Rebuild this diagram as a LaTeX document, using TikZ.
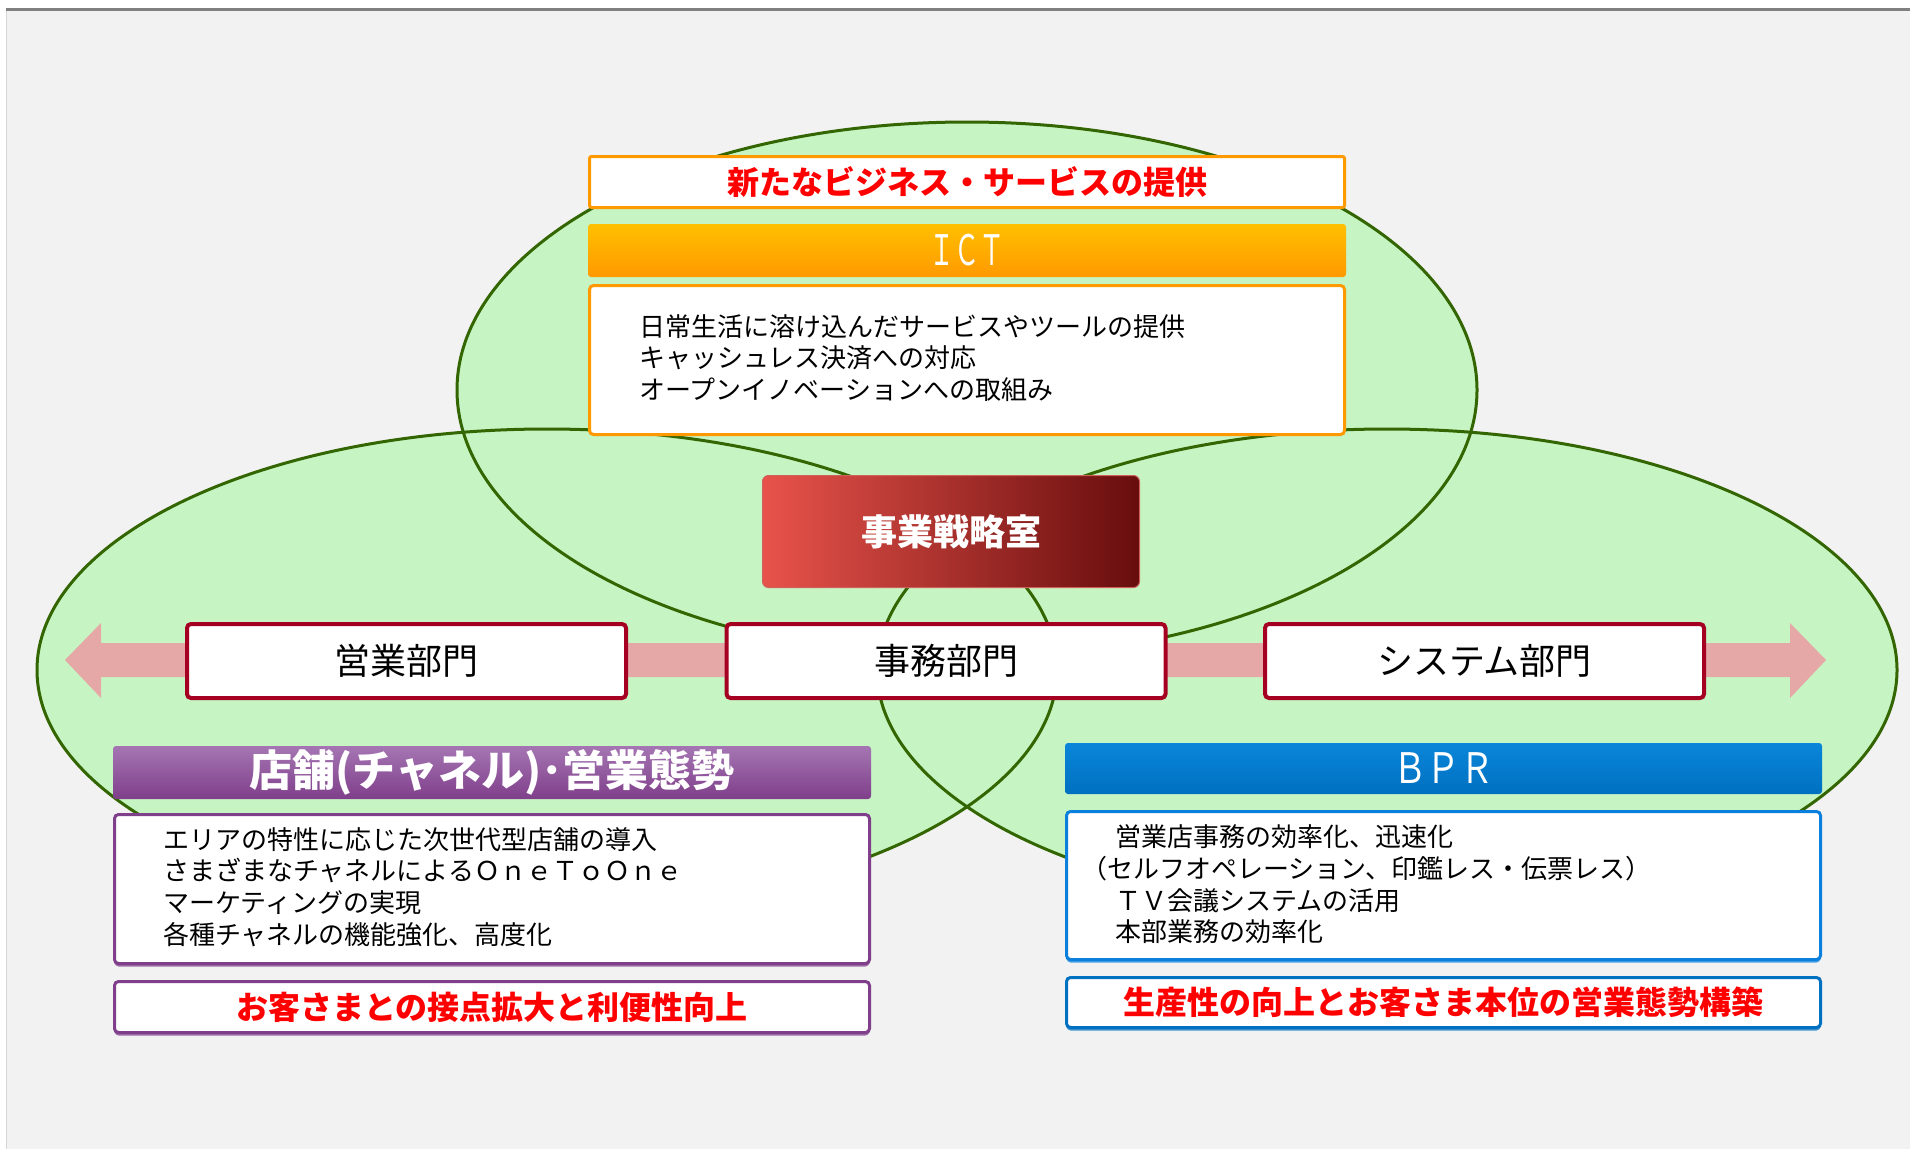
\documentclass[tikz,border=0pt]{standalone}
\usepackage{fontspec}
\setmainfont{Noto Sans CJK JP}
\definecolor{bgc}{HTML}{F2F2F2}
\definecolor{topline}{HTML}{808080}
\definecolor{edgeline}{HTML}{D6D6D6}
\definecolor{ellgreen}{HTML}{C6F4C3}
\definecolor{ellline}{HTML}{336600}
\definecolor{orangeb}{HTML}{FF9900}
\definecolor{orangetop}{HTML}{FFC000}
\definecolor{orangemid}{HTML}{FFA000}
\definecolor{redtext}{HTML}{FF0000}
\definecolor{stratL}{HTML}{E8534B}
\definecolor{stratR}{HTML}{670D0D}
\definecolor{stratB}{HTML}{D0605A}
\definecolor{deptred}{HTML}{A50021}
\definecolor{arrowpink}{HTML}{E6A8A6}
\definecolor{purp}{HTML}{7F3F8A}
\definecolor{purptop}{HTML}{A575B3}
\definecolor{blueb}{HTML}{0070C0}
\definecolor{bluetop}{HTML}{0A86DA}
\definecolor{bluel}{HTML}{0A80DC}
\tikzset{
  ellstroke/.style={draw=ellline, line width=3pt},
  wbox/.style={draw=#1, line width=3pt, fill=white, rounded corners=4pt, inner sep=0pt},
  shbox/.style={wbox=#1, preaction={fill=#1!75, transform canvas={yshift=-3pt}}},
  dept/.style={draw=deptred, line width=4pt, fill=white, rounded corners=4pt,
    minimum width=439pt, minimum height=74pt, inner sep=0pt,
    font=\fontsize{36pt}{40pt}\selectfont},
  redhead/.style={text=redtext, inner sep=0pt, font=\bfseries\fontsize{32pt}{36pt}\selectfont},
  bodytxt/.style={anchor=west, align=left, inner sep=0pt, text=black,
    font=\fontsize{26pt}{31.6pt}\selectfont},
}
\begin{document}
\begin{tikzpicture}[x=1pt, y=-1pt]
\useasboundingbox (0,0) rectangle (1910,1149);
% background
\fill[white] (0,0) rectangle (1910,1149);
\fill[bgc] (6,10) rectangle (1910,1149);
\fill[topline] (6,8) rectangle (1910,11);
\draw[edgeline, line width=1pt] (6,11) -- (6,1149);
% ellipses: union fill, then outlines
\fill[ellgreen] (967,390) ellipse [x radius=510pt, y radius=268pt]
  (547,670) ellipse [x radius=510pt, y radius=241pt]
  (1387,670) ellipse [x radius=510pt, y radius=241pt];
\draw[ellstroke] (967,390) ellipse [x radius=510pt, y radius=268pt];
\draw[ellstroke] (547,670) ellipse [x radius=510pt, y radius=241pt];
\draw[ellstroke] (1387,670) ellipse [x radius=510pt, y radius=241pt];
% double arrow
\fill[arrowpink] (65,660) -- (101,623) -- (101,643) -- (1790,643) -- (1790,623)
  -- (1826,660) -- (1790,698) -- (1790,677) -- (101,677) -- (101,698) -- cycle;
% ICT column
\node[wbox=orangeb, minimum width=755pt, minimum height=51pt, rounded corners=2pt]
  (newbiz) at (967,182) {};
\node[redhead] (newbiztxt) at (newbiz.center) {新たなビジネス・サービスの提供};
\node[top color=orangetop, middle color=orangemid, bottom color=orangeb, rounded corners=3pt,
  inner sep=0pt, minimum width=758pt, minimum height=53pt] (ictbar) at (967,250.5) {};
\node[text=white, inner sep=0pt, xscale=0.6, transform shape, font=\fontsize{42pt}{46pt}\selectfont] (icttxt) at (ictbar.center) {ＩＣＴ};
\node[wbox=orangeb, minimum width=755pt, minimum height=149pt] (ictbox) at (967,360) {};
\node[bodytxt] (icttext) at (639,358) {日常生活に溶け込んだサービスやツールの提供\\キャッシュレス決済への対応\\オープンイノベーションへの取組み};
% strategy office
\node[left color=stratL, right color=stratR, draw=stratB, line width=1pt, rounded corners=6pt,
  minimum width=377pt, minimum height=112pt, inner sep=0pt] (strat) at (951,531.5) {};
\node[text=white, inner sep=0pt, font=\bfseries\fontsize{36pt}{40pt}\selectfont] (strattxt) at (strat.center) {事業戦略室};
% departments
\node[dept] (eigyo) at (406.5,661) {営業部門};
\node[dept] (jimu) at (946,661) {事務部門};
\node[dept] (system) at (1484.5,661) {システム部門};
% left column (purple)
\node[top color=purptop, middle color=purp, bottom color=purp, rounded corners=3pt, inner sep=0pt,
  minimum width=758pt, minimum height=53pt] (purpbar) at (492,772.5) {};
\node[text=white, inner sep=0pt, font=\bfseries\fontsize{43pt}{46pt}\selectfont] (purptxt) at (purpbar.center) {店舗(チャネル)･営業態勢};
\node[shbox=purp, minimum width=755pt, minimum height=149pt] (purpbox) at (492,889) {};
\node[bodytxt] (purptext) at (163,887) {エリアの特性に応じた次世代型店舗の導入\\さまざまなチャネルによるＯｎｅＴｏＯｎｅ\\マーケティングの実現\\各種チャネルの機能強化、高度化};
\node[shbox=purp, minimum width=755pt, minimum height=51pt] (purpgoal) at (492,1007) {};
\node[redhead] (purpgoaltxt) at (purpgoal.center) {お客さまとの接点拡大と利便性向上};
% right column (blue)
\node[top color=bluetop, middle color=blueb, bottom color=blueb, rounded corners=3pt, inner sep=0pt,
  minimum width=757pt, minimum height=51pt] (bprbar) at (1443.5,768.5) {};
\node[text=white, inner sep=0pt, xscale=0.8, transform shape, font=\fontsize{42pt}{46pt}\selectfont] (bprtxt) at (bprbar.center) {ＢＰＲ};
\node[shbox=bluel, minimum width=754pt, minimum height=148pt] (bprbox) at (1443.5,885.5) {};
\node[bodytxt] (bprtext) at (1089,884.5) {　営業店事務の効率化、迅速化\\\hspace*{-8pt}（セルフオペレーション、印鑑レス・伝票レス）\\　ＴＶ会議システムの活用\\　本部業務の効率化};
\node[shbox=blueb, minimum width=754pt, minimum height=50pt] (bprgoal) at (1443.5,1002.5) {};
\node[redhead] (bprgoaltxt) at (bprgoal.center) {生産性の向上とお客さま本位の営業態勢構築};
\end{tikzpicture}
\end{document}
